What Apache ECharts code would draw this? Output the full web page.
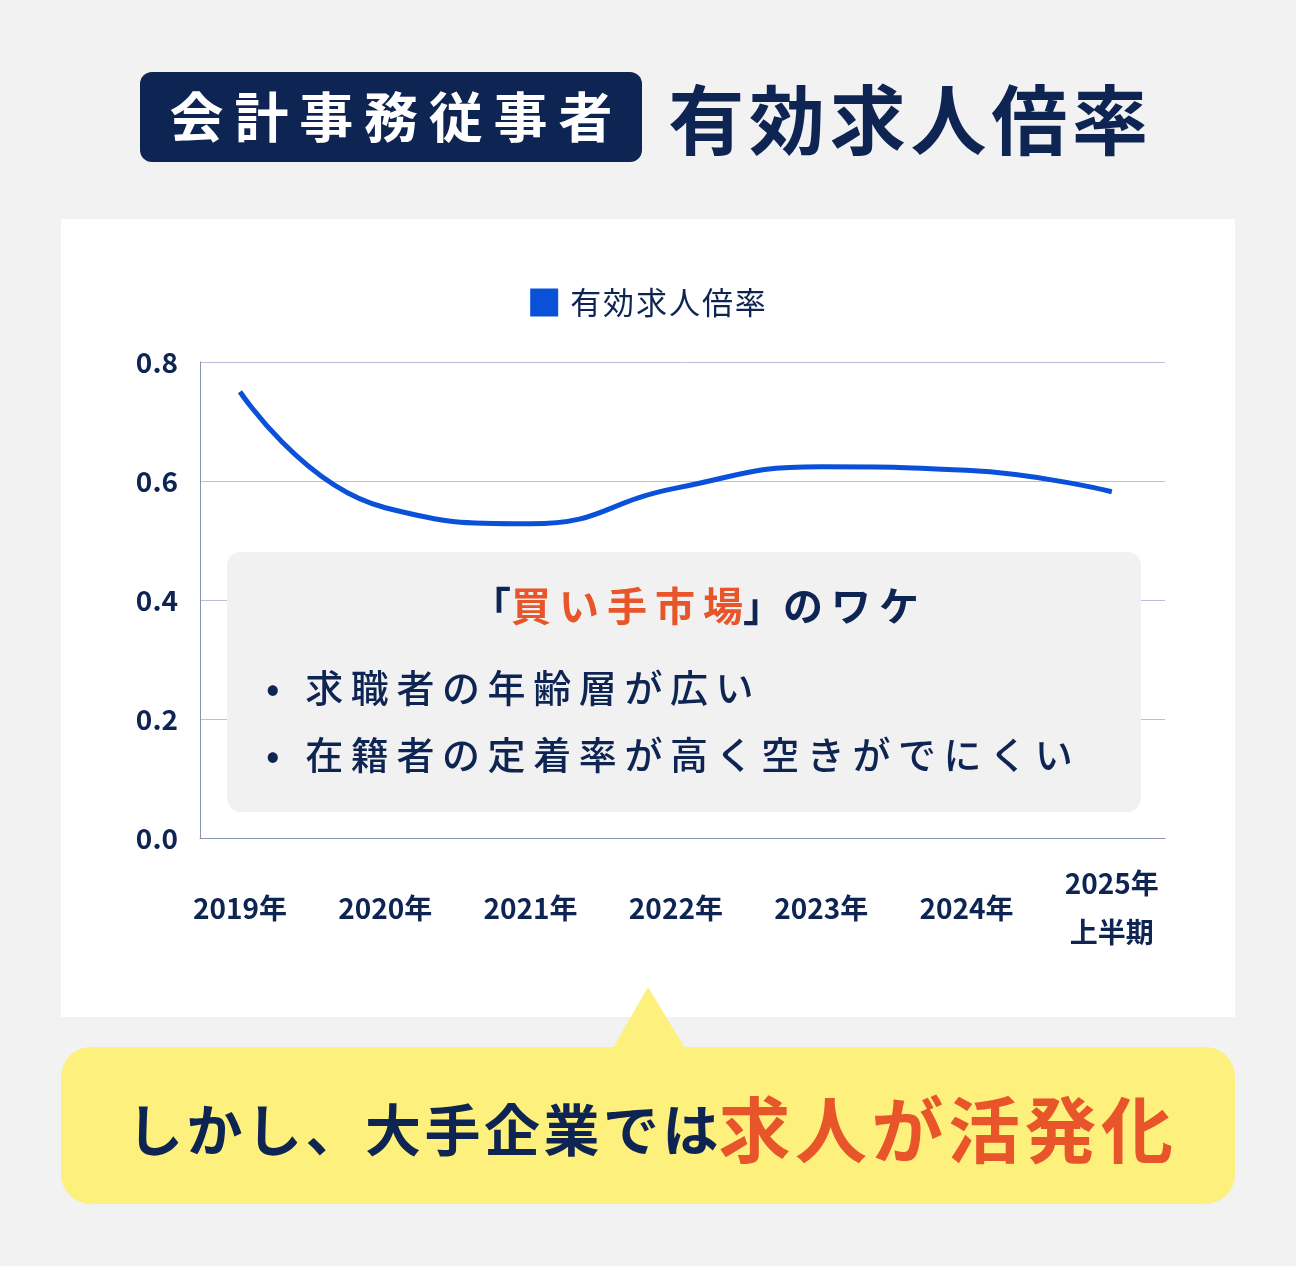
<!DOCTYPE html>
<html><head><meta charset="utf-8">
<script src="https://cdn.jsdelivr.net/npm/echarts@6/dist/echarts.min.js"></script>
<style>html,body{margin:0;padding:0;background:#f2f2f2}#c{width:1296px;height:1266px}</style>
</head><body><div id="c"></div>
<script>
const categories = ['2019年','2020年','2021年','2022年','2023年','2024年','2025年\n上半期'];
const values = [0.75, 0.555, 0.528, 0.588, 0.624, 0.618, 0.582];
const yTicks = [0, 0.2, 0.4, 0.6, 0.8];
const seriesName = '有効求人倍率';
const navy = '#0e2452', orange = '#e8552a', blue = '#0a50d8';
const F = '"Noto Sans CJK JP","Noto Sans",sans-serif';
const sp = (s, n) => Array.from(s).join((n || '\u2009'));
const chart = echarts.init(document.getElementById('c'));
chart.setOption({
  backgroundColor: '#f2f2f2',
  textStyle: {fontFamily: F},
  legend: {top: 282, left: 'center', itemWidth: 28, itemHeight: 28, icon: 'rect',
    formatter: n => ' ' + sp(n, '\u200A'),
    textStyle: {fontSize: 31, color: navy, fontFamily: F}, data: [seriesName]},
  grid: {left: 200, right: 131, top: 362, bottom: 428},
  xAxis: {type: 'value', min: -0.275, max: 6.366,
    axisLine: {show: true, lineStyle: {color: '#8a93b0'}}, axisTick: {show: false},
    splitLine: {show: false},
    axisLabel: {customValues: [0,1,2,3,4,5,6], formatter: v => categories[Math.round(v)],
      fontSize: 28, fontWeight: 'bold', color: navy, margin: 70, lineHeight: 49, verticalAlign: 'middle', fontFamily: F}},
  yAxis: {type: 'value', min: 0, max: 0.8, interval: 0.2,
    axisLine: {show: true, onZero: false, lineStyle: {color: '#8a93b0'}}, axisTick: {show: false},
    splitLine: {lineStyle: {color: '#b8c0d8'}},
    axisLabel: {formatter: v => v.toFixed(1), fontSize: 28, fontWeight: 'bold', color: navy, margin: 22, fontFamily: F}},
  series: [{name: seriesName, type: 'line', smooth: true, symbol: 'none',
    data: values.map((v, i) => [i, v]), itemStyle: {color: blue}, lineStyle: {width: 5, color: blue}}],
  graphic: [
    {type: 'rect', z: -10, shape: {x: 61, y: 219, width: 1174, height: 798}, style: {fill: '#fff'}},
    {type: 'rect', shape: {x: 140, y: 72, width: 502, height: 90, r: 12}, style: {fill: navy}},
    {type: 'text', x: 391, y: 117, style: {text: sp('会計事務従事者'), fill: '#fff', fontSize: 54, fontWeight: 'bold', fontFamily: F, align: 'center', verticalAlign: 'middle'}},
    {type: 'text', x: 908, y: 120, style: {text: sp('有効求人倍率', '\u200A'), fill: navy, fontSize: 76, fontWeight: 'bold', fontFamily: F, align: 'center', verticalAlign: 'middle'}},
    {type: 'rect', z: 100, shape: {x: 227, y: 552, width: 914, height: 260, r: 14}, style: {fill: '#f1f1f1'}},
    {type: 'text', z: 101, x: 695, y: 606, style: {
      rich: {a: {fontSize: 40, fontWeight: 'bold', fill: navy, fontFamily: F}, b: {fontSize: 40, fontWeight: 'bold', fill: orange, fontFamily: F}},
      text: '{a|「}{b|' + sp('買い手市場') + '}{a|」' + sp('のワケ') + '}', align: 'center', verticalAlign: 'middle'}},
    {type: 'text', z: 101, x: 266, y: 688, style: {text: '•   ' + sp('求職者の年齢層が広い'), fill: navy, fontSize: 38, fontWeight: 500, fontFamily: F, verticalAlign: 'middle'}},
    {type: 'text', z: 101, x: 266, y: 755, style: {text: '•   ' + sp('在籍者の定着率が高く空きがでにくい'), fill: navy, fontSize: 38, fontWeight: 500, fontFamily: F, verticalAlign: 'middle'}},
    {type: 'polygon', z: 100, shape: {points: [[648, 987], [612, 1050], [686, 1050]]}, style: {fill: '#fdf07c'}},
    {type: 'rect', z: 100, shape: {x: 61, y: 1047, width: 1174, height: 157, r: 30}, style: {fill: '#fdf07c'}},
    {type: 'text', z: 101, x: 650, y: 1130, style: {
      rich: {a: {fontSize: 56, fontWeight: 'bold', fill: navy, fontFamily: F}, b: {fontSize: 72, fontWeight: 'bold', fill: orange, fontFamily: F}},
      text: '{a|' + sp('しかし、大手企業では', '\u200A') + '}{b|' + sp('求人が活発化', '\u200A') + '}', align: 'center', verticalAlign: 'middle'}}
  ]
});
</script></body></html>
